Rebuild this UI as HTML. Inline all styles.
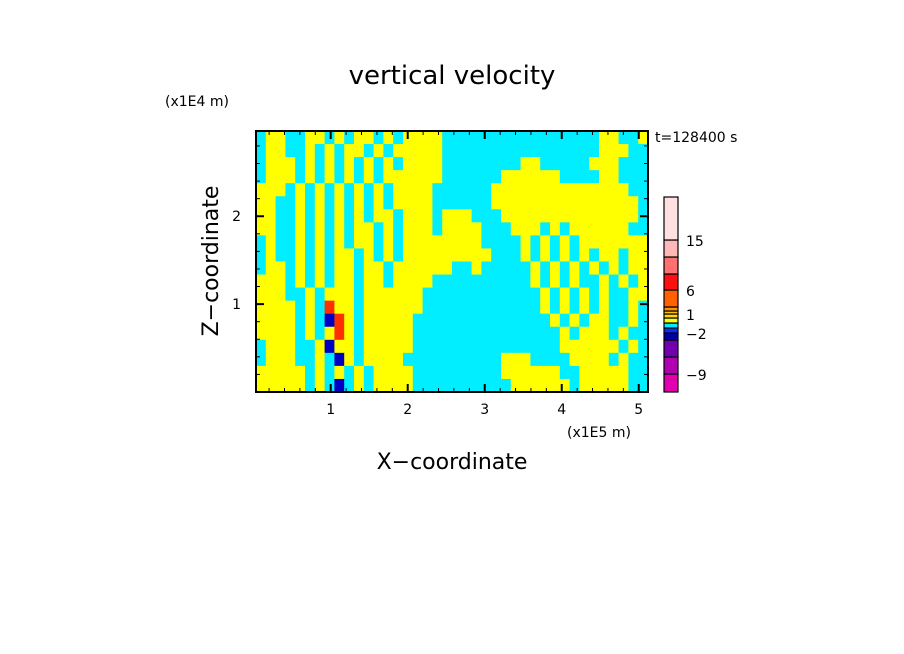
<!DOCTYPE html>
<html><head><meta charset="utf-8"><style>
body{margin:0;background:#fff;width:904px;height:654px;overflow:hidden}
svg{display:block}
text{font-family:"DejaVu Sans","Liberation Sans",sans-serif;fill:#000}
</style></head><body>
<svg id="c" width="904" height="654">
<text x="452" y="84" text-anchor="middle" font-size="26">vertical velocity</text>
<text x="165" y="106" font-size="14">(x1E4 m)</text>
<text x="655" y="142" font-size="14">t=128400 s</text>
<text x="567" y="437" font-size="14">(x1E5 m)</text>
<text x="452" y="469" text-anchor="middle" font-size="22">X−coordinate</text>
<text transform="translate(218,261) rotate(-90)" text-anchor="middle" font-size="22">Z−coordinate</text>
<g id="field"></g>
<g id="axes"></g>
<g id="cbar"></g>
</svg>
<script>
const gridRows = [
"CYYCCYYCYCYYCYCYYYYCCCCCCCCCCCCCCCCYYCCY",
"CYYCCYCYCYYCYCYYYYYCCCCCCCCCCCCCCCCYYYCC",
"CYYYCYCYCYCYCYCYYYYCCCCCCCCYYCCCCCYYYCCC",
"CYYYCYCYCYCYCYYYYYYCCCCCCYYYYYYCCCCYYCCC",
"YYYCYCYCYCYCYCYYYYCCCCCCYYYYYYYYYYYYYYCC",
"YYCCYCYCYCYCYCYYYYCCCCCCYYYYYYYYYYYYYYYC",
"YYCCYCYCYCYCYYCYYYCYYYCCCYYYYYYYYYYYYYYC",
"YYCCYCYCYCYYCYCYYYCYYYYCCCYYYCYCYYYYYYCC",
"CYCCYCYCYCYYCYCYYYYYYYYCCCCYCYCYCYYYYYYY",
"CYCCYCYCYYCYCYCYYYYYYYYYCCCYCYCYCYCYYCYY",
"CYYCYCYCYYCYYCYYYYYYCCYCCCCCYCYCYCYCYCYY",
"YYYCYCYCYYCYYCYYYYCCCCCCCCCCYCYCYCCYCYCY",
"YYYCCYCYYYCYYYYYYCCCCCCCCCCCCYCYCYCYCCYY",
"YYYYCYCRYYCYYYYYYCCCCCCCCCCCCYCYCYCYCCYC",
"YYYYCYCBRYCYYYYYCCCCCCCCCCCCCCYCYCYYCCYC",
"YYYYCYCYRYCYYYYYCCCCCCCCCCCCCCCYCYYYCYCC",
"CYYYCCYBYYCYYYYYCCCCCCCCCCCCCCCYYYYYYCYC",
"CYYYCCYCBYCYYYYCCCCCCCCCCYYYCCCCYYYYCYCC",
"YYYYYCYCYCYCYYYYCCCCCCCCCYYYYYYCCYYYYYCC",
"YYYYYCYCBCYCYYYYCCCCCCCCCCYYYYYYCYYYYYCC"];
const cellColors = {C:"#00EEFF",Y:"#FFFF00",R:"#FF3000",B:"#0000C0"};
const xTicks = [1,2,3,4,5];
const yTicks = [1,2];
const cbarColors = ["#E000B0","#B000B0","#7000B0","#0000A0","#0030FF","#00EEFF","#FFFF00","#FFD800","#FFC000","#FF9000","#FF6000","#FF1010","#FF7070","#FFB8B8","#FFE0E0"];
const cbarHeights = [18,17,17,7,5,5,5,4,3,4,17,16,17,17,43];
const cbarLabels = ["−9","−2","1","6","15"];
const cbarLabelPos = [1,4,8,11,14];

const NS="http://www.w3.org/2000/svg";
const L=256,R=648,T=131,B=392;
const xmin=0.03,xmax=5.12,ymin=0,ymax=2.97;
const sx=v=>L+(v-xmin)/(xmax-xmin)*(R-L);
const sy=v=>B-(v-ymin)/(ymax-ymin)*(B-T);
function mk(tag,at,parent){const e=document.createElementNS(NS,tag);for(const k in at)e.setAttribute(k,at[k]);parent.appendChild(e);return e;}
const field=document.getElementById('field');
const nr=gridRows.length,nc=gridRows[0].length;
const cw=(R-L)/nc,ch=(B-T)/nr;
gridRows.forEach((row,r)=>{[...row].forEach((k,c)=>{
  const e=mk('rect',{x:L+c*cw,y:T+r*ch,width:cw+0.6,height:ch+0.6,fill:cellColors[k]},field);
  
  
});});
const ax=document.getElementById('axes');
const fr=mk('rect',{x:L,y:T,width:R-L,height:B-T,fill:'none',stroke:'#000','stroke-width':2},ax);


for(let v=0.2;v<=5.1;v+=0.2){const x=sx(v);const maj=Math.abs(v-Math.round(v))<0.01;const len=maj?8:4;
  mk('line',{x1:x,x2:x,y1:B,y2:B-len,stroke:'#000','stroke-width':maj?2:1},ax);
  mk('line',{x1:x,x2:x,y1:T,y2:T+len,stroke:'#000','stroke-width':maj?2:1},ax);}
for(let v=0.2;v<=2.95;v+=0.2){const y=sy(v);const maj=Math.abs(v-Math.round(v))<0.01;const len=maj?8:4;
  mk('line',{x1:L,x2:L+len,y1:y,y2:y,stroke:'#000','stroke-width':maj?2:1},ax);
  mk('line',{x1:R,x2:R-len,y1:y,y2:y,stroke:'#000','stroke-width':maj?2:1},ax);}
xTicks.forEach(v=>{const t=mk('text',{x:sx(v),y:414,'text-anchor':'middle','font-size':14},ax);t.textContent=v;
  
  });
yTicks.forEach(v=>{const t=mk('text',{x:241,y:sy(v)+5,'text-anchor':'end','font-size':14},ax);t.textContent=v;
  
  });
const cb=document.getElementById('cbar');
let y=392;const edges=[392];
cbarColors.forEach((col,i)=>{const h=cbarHeights[i];y-=h;edges.push(y);
  const e=mk('rect',{x:664,y:y,width:14,height:h,fill:col,stroke:'#000','stroke-width':1.2},cb);
  
  });
cbarLabels.forEach((s,i)=>{const yy=edges[cbarLabelPos[i]];
  const t=mk('text',{x:686,y:yy+6,'font-size':14},cb);t.textContent=s;
  
  });
</script>
</body></html>
